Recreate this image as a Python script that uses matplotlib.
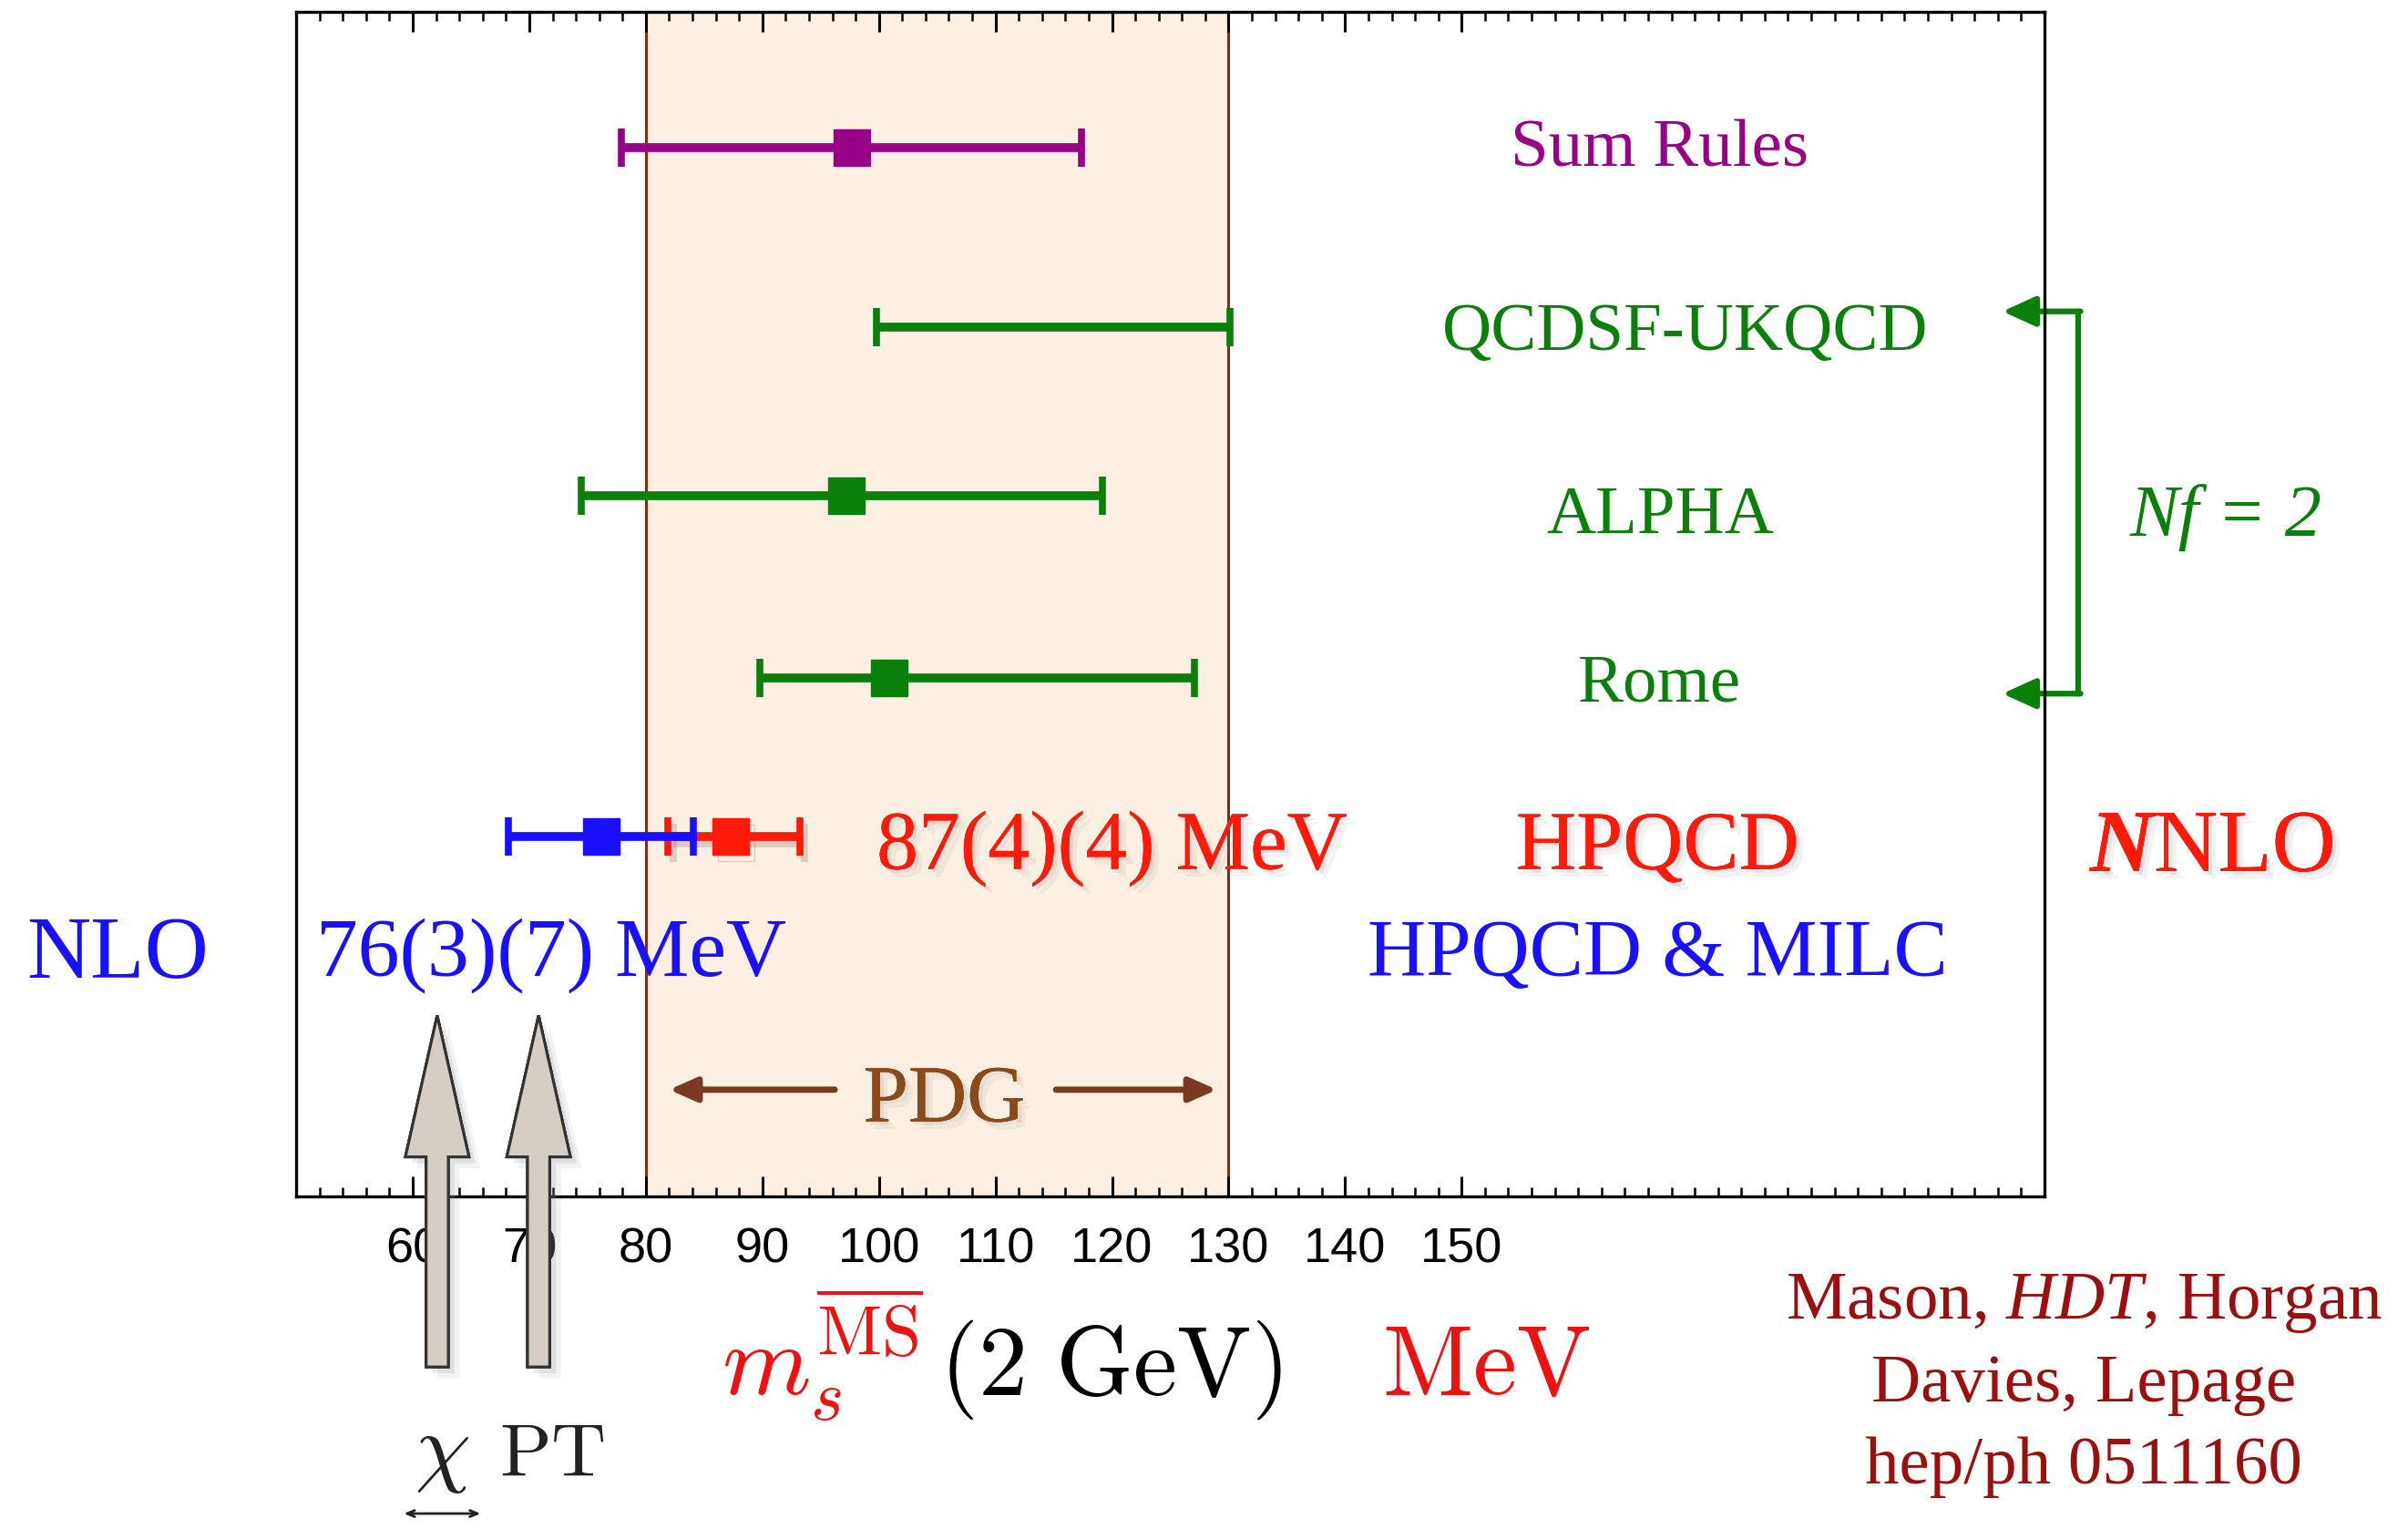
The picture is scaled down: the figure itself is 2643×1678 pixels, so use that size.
import numpy as np
import matplotlib
matplotlib.use('Agg')
import matplotlib.pyplot as plt
import matplotlib.patheffects as pe
from matplotlib.patches import FancyArrow

plt.rcParams['font.family'] = ['Liberation Serif', 'DejaVu Serif']
plt.rcParams['mathtext.fontset'] = 'custom'
plt.rcParams['mathtext.rm'] = 'Liberation Serif'
plt.rcParams['mathtext.it'] = 'Liberation Serif:italic'

# =============================================================================
# Data: m_s(2 GeV) determinations [MeV]
# =============================================================================
names = ['Sum Rules', 'QCDSF-UKQCD', 'ALPHA', 'Rome', 'HPQCD', 'HPQCD & MILC']
centers = [97.7, 115.0, 97.2, 100.9, 87.3, 76.2]
lows = [77.9, 99.8, 74.5, 89.8, 81.9, 68.2]
highs = [117.4, 130.1, 119.2, 127.1, 93.2, 84.1]
rows = [6.09, 5.05, 4.07, 3.01, 2.09, 2.09]
show_marker = [True, False, True, True, True, True]
colors = ['#990088', '#0a800a', '#0a800a', '#0a800a', '#ff1a0a', '#1a10ff']

label_x = [167.0, 169.2, 167.0, 167.0, 166.8, 166.8]
label_y = [6.12, 5.05, 3.99, 3.01, 2.07, 1.45]
label_size = [54, 54, 54, 54, 66, 64]

pdg_range = [80, 130]
tick_labels = [60, 70, 80, 90, 100, 110, 120, 130, 140, 150]

chipt_arrows = [62.1, 70.8]

# =============================================================================
# Figure
# =============================================================================
fig = plt.figure(figsize=(26.43, 16.78), dpi=100)
ax = fig.add_axes([0.123, 0.2175, 0.726, 0.7748])
ax.set_xlim(50, 200)
ax.set_ylim(0, 6.88)

def soft_shadow():
    # poor man's blurred drop shadow
    return [pe.withSimplePatchShadow(offset=(3, -3), shadow_rgbFace='#999999', alpha=0.18),
            pe.withSimplePatchShadow(offset=(6, -6), shadow_rgbFace='#999999', alpha=0.12),
            pe.Normal()]

# PDG band
ax.axvspan(pdg_range[0], pdg_range[1], facecolor='#fdf0e3', edgecolor='none', zorder=0)
for xv in pdg_range:
    ax.axvline(xv, color='#7c2d12', lw=2.2, zorder=1)

# error bars
for i in range(len(names)):
    xerr = [[centers[i] - lows[i]], [highs[i] - centers[i]]]
    fmt = 's' if show_marker[i] else 'none'
    eb = ax.errorbar([centers[i]], [rows[i]], xerr=xerr, fmt=fmt, color=colors[i],
                     ms=29, capsize=15, capthick=5.5, elinewidth=7, zorder=3 + (i == 5))
    if i == 4:
        for art in [eb[0]] + list(eb[1]) + list(eb[2]):
            if art is not None:
                art.set_path_effects([pe.SimpleLineShadow(offset=(4, -5), shadow_color='#666666', alpha=0.25),
                                      pe.Normal()])

# row labels
for i in range(len(names)):
    t = ax.text(label_x[i], label_y[i], names[i], color=colors[i], fontsize=label_size[i],
                ha='center', va='center_baseline')
    if i == 4:
        t.set_path_effects(soft_shadow())

# result values
t = ax.text(99.8, 2.07, '87(4)(4) MeV', color='#ff1a0a', fontsize=66, ha='left', va='center_baseline')
t.set_path_effects(soft_shadow())
ax.text(51.7, 1.45, '76(3)(7) MeV', color='#1a10ff', fontsize=66, ha='left', va='center_baseline')
ax.text(34.7, 1.45, 'NLO', color='#1a10ff', fontsize=70, ha='center', va='center_baseline')
t1 = ax.text(203.9, 2.07, 'N', color='#ff1a0a', fontsize=70, ha='left', va='center_baseline',
             style='italic', weight='bold')
t1.set_path_effects(soft_shadow())
t2 = ax.annotate('NLO', xy=(1, 0), xycoords=t1, xytext=(0, 0), textcoords='offset points',
                 color='#ff1a0a', fontsize=70, ha='left', va='bottom')
t2.set_path_effects(soft_shadow())

# Nf = 2 bracket
ax.plot([202.9, 202.9], [2.92, 5.14], color='#0a800a', lw=4.5, clip_on=False, solid_capstyle='projecting')
for yb in [5.14, 2.92]:
    ax.annotate('', xy=(196.4, yb), xytext=(203.1, yb), annotation_clip=False,
                arrowprops=dict(arrowstyle='-|>,head_length=2.2,head_width=1.0', color='#0a800a', lw=4.5,
                                shrinkA=0, shrinkB=0))
ax.text(207.3, 3.99, 'Nf = 2', color='#0a800a', fontsize=58, style='italic', ha='left', va='center_baseline')

# PDG label and arrows
t = ax.text(105.6, 0.60, 'PDG', color='#8b4a1a', fontsize=64, ha='center', va='center_baseline')
t.set_path_effects(soft_shadow())
for x0, x1 in [(96.2, 82.0), (115.2, 129.0)]:
    ax.annotate('', xy=(x1, 0.62), xytext=(x0, 0.62),
                arrowprops=dict(arrowstyle='-|>,head_length=1.8,head_width=0.8', color='#7a3a22', lw=5,
                                shrinkA=0, shrinkB=0))

# big chiral PT arrows
for xa in chipt_arrows:
    arr = FancyArrow(xa, -0.99, 0, 2.04, width=1.9, head_width=5.45, head_length=0.82,
                     length_includes_head=True, facecolor='#d6cec5', edgecolor='#333333', lw=2.2,
                     clip_on=False, zorder=5)
    arr.set_path_effects([pe.withSimplePatchShadow(offset=(5, -5), shadow_rgbFace='#999999', alpha=0.2),
                          pe.withSimplePatchShadow(offset=(9, -9), shadow_rgbFace='#999999', alpha=0.12),
                          pe.Normal()])
    ax.add_patch(arr)

# axes styling
for sp in ax.spines.values():
    sp.set_linewidth(2.4)
    sp.set_zorder(4)
ax.set_yticks([])
ax.set_xticks(tick_labels)
ax.set_xticklabels([str(v) for v in tick_labels], family='Liberation Sans', fontsize=39)
ax.set_xticks(np.arange(50, 201, 2), minor=True)
ax.tick_params(axis='x', which='both', direction='in', top=True, bottom=True, pad=24)
ax.tick_params(axis='x', which='major', length=16, width=2.2)
ax.tick_params(axis='x', which='minor', length=7, width=1.8)

# axis label
fig.text(0.2997, 0.088, r'$m_s^{\overline{\rm MS}}$', color='#ee1111', fontsize=80,
         math_fontfamily='cm', ha='left', va='baseline')
fig.text(0.390, 0.088, r'$(2\ \mathrm{GeV})$', color='black', fontsize=78,
         math_fontfamily='cm', ha='left', va='baseline')
fig.text(0.574, 0.088, r'$\mathrm{MeV}$', color='#ee1111', fontsize=78,
         math_fontfamily='cm', ha='left', va='baseline')

# chi PT
fig.text(0.1720, 0.035, r'$\chi$', color='#222222', fontsize=70, math_fontfamily='cm', ha='left', va='baseline')
fig.text(0.2075, 0.035, r'$\mathrm{PT}$', color='#222222', fontsize=60, math_fontfamily='cm', ha='left', va='baseline')
ax.annotate('', xy=(0.1677, 0.0101), xytext=(0.1996, 0.0101), xycoords='figure fraction',
            textcoords='figure fraction', annotation_clip=False,
            arrowprops=dict(arrowstyle='<->,head_length=0.6,head_width=0.25', color='#222222', lw=2,
                            shrinkA=0, shrinkB=0))

# reference
fig.text(0.8654, 0.1528, r'Mason, $\mathit{HDT}$, Horgan', color='#9a0f0f', fontsize=54,
         ha='center', va='center_baseline')
fig.text(0.8654, 0.0985, 'Davies, Lepage', color='#9a0f0f', fontsize=54, ha='center', va='center_baseline')
fig.text(0.8654, 0.0452, 'hep/ph 0511160', color='#9a0f0f', fontsize=54, ha='center', va='center_baseline')

fig.savefig('out.png', dpi=100)
